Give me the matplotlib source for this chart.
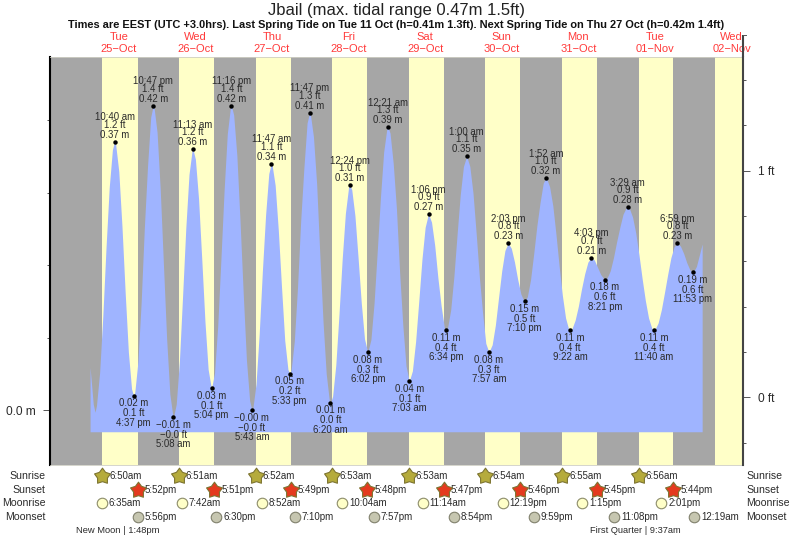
import numpy as np
import matplotlib
matplotlib.use("Agg")
import matplotlib.pyplot as plt
from matplotlib.path import Path

plt.rcParams['font.family'] = ['Liberation Sans', 'DejaVu Sans']

# high and low waters, first one is a high
tide_days = [0, 0, 0, 1, 1, 1, 1, 2, 2, 2, 2, 3, 3, 3, 4, 4, 4, 4, 5, 5, 5, 5, 6, 6, 6, 6, 7, 7, 7, 7]
tide_times = ["10:40 am", "4:37 pm", "10:47 pm", "5:08 am", "11:13 am", "5:04 pm", "11:16 pm", "5:43 am",
              "11:47 am", "5:33 pm", "11:47 pm", "6:20 am", "12:24 pm", "6:02 pm", "12:21 am", "7:03 am",
              "1:06 pm", "6:34 pm", "1:00 am", "7:57 am", "2:03 pm", "7:10 pm", "1:52 am", "9:22 am",
              "4:03 pm", "8:21 pm", "3:29 am", "11:40 am", "6:59 pm", "11:53 pm"]
tide_m = [0.37, 0.02, 0.42, -0.01, 0.36, 0.03, 0.42, -0.0, 0.34, 0.05, 0.41, 0.01, 0.31, 0.08, 0.39,
          0.04, 0.27, 0.11, 0.35, 0.08, 0.23, 0.15, 0.32, 0.11, 0.21, 0.18, 0.28, 0.11, 0.23, 0.19]
tide_ft = [1.2, 0.1, 1.4, -0.0, 1.2, 0.1, 1.4, -0.0, 1.1, 0.2, 1.3, 0.0, 1.0, 0.3, 1.3,
           0.1, 0.9, 0.4, 1.1, 0.3, 0.8, 0.5, 1.0, 0.4, 0.7, 0.6, 0.9, 0.4, 0.8, 0.6]

# water height, hours 3 to 194 after midnight on the 25th
curve_m = [0.059, 0.008, 0.006, 0.052, 0.13, 0.224, 0.307, 0.359, 0.367, 0.329,
           0.253, 0.162, 0.08, 0.029, 0.024, 0.067, 0.148, 0.251, 0.336, 0.404,
           0.419, 0.383, 0.303, 0.2, 0.098, 0.022, -0.01, 0.008, 0.068, 0.158,
           0.251, 0.325, 0.359, 0.346, 0.291, 0.208, 0.122, 0.056, 0.03, 0.051,
           0.116, 0.208, 0.303, 0.381, 0.418, 0.407, 0.351, 0.26, 0.16, 0.069,
           0.013, 0.002, 0.036, 0.105, 0.192, 0.269, 0.326, 0.339, 0.31, 0.247,
           0.169, 0.096, 0.056, 0.055, 0.095, 0.169, 0.261, 0.334, 0.396, 0.409,
           0.377, 0.312, 0.214, 0.122, 0.05, 0.012, 0.019, 0.062, 0.132, 0.208,
           0.271, 0.307, 0.304, 0.268, 0.209, 0.147, 0.098, 0.08, 0.097, 0.148,
           0.22, 0.294, 0.356, 0.388, 0.382, 0.34, 0.278, 0.19, 0.117, 0.061,
           0.04, 0.054, 0.094, 0.15, 0.208, 0.252, 0.27, 0.259, 0.227, 0.182,
           0.144, 0.114, 0.113, 0.138, 0.184, 0.242, 0.297, 0.336, 0.35, 0.336,
           0.299, 0.243, 0.183, 0.134, 0.092, 0.08, 0.09, 0.117, 0.155, 0.192,
           0.22, 0.23, 0.223, 0.204, 0.18, 0.16, 0.15, 0.156, 0.179, 0.215,
           0.254, 0.286, 0.313, 0.32, 0.308, 0.282, 0.242, 0.198, 0.158, 0.127,
           0.111, 0.112, 0.124, 0.143, 0.167, 0.188, 0.204, 0.21, 0.207, 0.197,
           0.187, 0.181, 0.182, 0.192, 0.21, 0.232, 0.252, 0.27, 0.279, 0.278,
           0.266, 0.244, 0.214, 0.181, 0.151, 0.127, 0.113, 0.111, 0.12, 0.138,
           0.162, 0.187, 0.21, 0.225, 0.23, 0.226, 0.216, 0.203, 0.193, 0.19,
           0.198, 0.215]
curve_extra_hours = [4.55, 194.8]
curve_extra_m = [-0.003, 0.229]

day_names = ["Tue", "Wed", "Thu", "Fri", "Sat", "Sun", "Mon", "Tue", "Wed"]
day_dates = ["25-Oct", "26-Oct", "27-Oct", "28-Oct", "29-Oct", "30-Oct", "31-Oct", "01-Nov", "02-Nov"]
sunrise = ["6:50am", "6:51am", "6:52am", "6:53am", "6:53am", "6:54am", "6:55am", "6:56am"]
sunset = ["5:52pm", "5:51pm", "5:49pm", "5:48pm", "5:47pm", "5:46pm", "5:45pm", "5:44pm"]
last_sunrise = "6:57am"
moonrise = ["6:35am", "7:42am", "8:52am", "10:04am", "11:14am", "12:19pm", "1:15pm", "2:01pm"]
moonset = ["5:56pm", "6:30pm", "7:10pm", "7:57pm", "8:54pm", "9:59pm", "11:08pm", "12:19am"]
moonset_days = [0, 1, 2, 3, 4, 5, 6, 8]

GREY = "#a6a6a6"
YELLOW = "#ffffc8"
BLUE = "#9fb4ff"
RED = "#ff3a3a"
TEXT = "#2a2a2a"
W, H = 793, 539


def to_hours(day, text):
    # "10:47 pm" or "10:47pm" -> hours after midnight on the 25th
    text = text.replace(" ", "")
    hh, mm = text[:-2].split(":")
    hh = int(hh) % 12
    if text.endswith("pm"):
        hh += 12
    return day * 24 + hh + int(mm) / 60


def minus(text):
    return text.replace("-", "\u2212")


def row_y(py):
    return (465 - py) / 408


fig = plt.figure(figsize=(W / 100, H / 100), dpi=100)
ax = fig.add_axes([50 / W, (H - 465) / H, 693 / W, 408 / H])
ax.set_facecolor(GREY)
ax.set_xlim(-9.558, 207.6)
ax.set_ylim(-0.07586, 0.4869)

# daylight
for i in range(8):
    ax.axvspan(to_hours(i, sunrise[i]), to_hours(i, sunset[i]), color=YELLOW, lw=0, zorder=1)
ax.axvspan(to_hours(8, last_sunrise), 207.6, color=YELLOW, lw=0, zorder=1)

# water
tide_hours = [to_hours(d, t) for d, t in zip(tide_days, tide_times)]
all_hours = np.concatenate([np.arange(3, 195), curve_extra_hours, tide_hours])
all_m = np.concatenate([curve_m, curve_extra_m, tide_m])
order = np.argsort(all_hours)
ax.fill_between(all_hours[order], -0.03, all_m[order], color=BLUE, lw=0, zorder=2)

ax.plot(tide_hours, tide_m, "o", color="black", ms=3.2, mew=0, zorder=4)
for i, (hr, m, ft, t) in enumerate(zip(tide_hours, tide_m, tide_ft, tide_times)):
    if i % 2 == 0:
        rows = [(7, f"{m:.2f} m"), (17, f"{ft:.1f} ft"), (24.5, t)]
    else:
        rows = [(-7.5, f"{m:.2f} m"), (-17.5, f"{ft:.1f} ft"), (-27, t)]
    for off, s in rows:
        ax.annotate(minus(s), (hr, m), xytext=(0, off), textcoords="offset pixels",
                    ha="center", va="center", fontsize=6.9, color=TEXT, zorder=5,
                    annotation_clip=False)

# left axis, metres
ax.set_xticks([])
ax.set_yticks([0.0])
ax.set_yticklabels(["0.0 m"], fontsize=8.6, color=TEXT)
ax.set_yticks([0.1, 0.2, 0.3, 0.4], minor=True)
ax.tick_params(axis="y", which="major", length=5, width=0.7, color="#555555", pad=5.5)
ax.tick_params(axis="y", which="minor", length=2.4, width=0.7, color="#555555")
ax.spines["left"].set_linewidth(1.5)
ax.spines["left"].set_color("black")
ax.spines["right"].set_visible(False)
for side in ["top", "bottom"]:
    ax.spines[side].set_linewidth(0.6)
    ax.spines[side].set_color("#cfcfc4")

# right axis, feet, its line runs on above the plot
ax2 = ax.twinx()
ax2.set_ylim(-0.2986, 1.501)
ax2.set_yticks([0, 1])
ax2.set_yticklabels(["0 ft", "1 ft"], fontsize=8.6, color=TEXT)
ax2.set_yticks([-0.2, 0.2, 0.4, 0.6, 0.8, 1.2, 1.4], minor=True)
ax2.tick_params(axis="y", which="major", length=5, width=0.7, color="#555555", pad=5.5)
ax2.tick_params(axis="y", which="minor", length=2.4, width=0.7, color="#555555")
for side in ["top", "bottom", "left"]:
    ax2.spines[side].set_visible(False)
ax2.spines["right"].set_linewidth(1.5)
ax2.spines["right"].set_color("#444444")
ax2.plot([1, 1], [1.5, 1.598], transform=ax2.get_yaxis_transform(), clip_on=False,
         color="#444444", lw=1.5, solid_capstyle="butt", zorder=6)
ax2.plot([1, 1 + 3.3 / 693], [1.598, 1.598], transform=ax2.get_yaxis_transform(), clip_on=False,
         color="#555555", lw=0.7, zorder=6)

# titles
fig.text(396 / W, 1 - 10.5 / H, "Jbail (max. tidal range 0.47m 1.5ft)", ha="center", va="center",
         fontsize=12, color="#222222")
fig.text(396.5 / W, 1 - 25.5 / H,
         "Times are EEST (UTC +3.0hrs). Last Spring Tide on Tue 11 Oct (h=0.41m 1.3ft). "
         "Next Spring Tide on Thu 27 Oct (h=0.42m 1.4ft)",
         ha="center", va="center", fontsize=7.9, fontweight="bold", color="#111111")

xt = ax.get_xaxis_transform()
for i, (name, date) in enumerate(zip(day_names, day_dates)):
    hr = 12 + 24 * i
    ax.text(hr, row_y(37.5), name, transform=xt, ha="center", va="center", fontsize=8, color=RED, clip_on=False)
    ax.text(hr, row_y(49), minus(date), transform=xt, ha="center", va="center", fontsize=8, color=RED, clip_on=False)

# rows under the plot
star = Path.unit_regular_star(5, innerCircle=0.62)
hr_off = 7 / 3.191


def event_row(hours, labels, py, marker, size, face, edge):
    ax.plot(hours, [row_y(py)] * len(hours), linestyle="none", marker=marker, ms=size, mfc=face, mec=edge,
            mew=0.8, transform=xt, clip_on=False, zorder=6)
    for hr, s in zip(hours, labels):
        ax.text(hr + hr_off, row_y(py), s, transform=xt, ha="left", va="center", fontsize=7.0,
                color=TEXT, clip_on=False)


event_row([to_hours(i, s) for i, s in enumerate(sunrise)], sunrise, 476, star, 12, "#b5ab3c", "#7d7430")
event_row([to_hours(i, s) for i, s in enumerate(sunset)], sunset, 490, star, 12, "#e43a1e", "#7d7430")
event_row([to_hours(i, s) for i, s in enumerate(moonrise)], moonrise, 503, "o", 7.6, "#ffffc8", "#8c8c6a")
event_row([to_hours(d, s) for d, s in zip(moonset_days, moonset)], moonset, 517, "o", 7.6, "#c6c6b0", "#80806c")

for py, s in [(476, "Sunrise"), (490, "Sunset"), (503, "Moonrise"), (517, "Moonset")]:
    fig.text(45.5 / W, 1 - py / H, s, ha="right", va="center", fontsize=7.6, color=TEXT)
    fig.text(746.5 / W, 1 - py / H, s, ha="left", va="center", fontsize=7.6, color=TEXT)

fig.text(117.5 / W, 1 - 530.5 / H, "New Moon | 1:48pm", ha="center", va="center", fontsize=6.75, color=TEXT)
fig.text(635.5 / W, 1 - 530.5 / H, "First Quarter | 9:37am", ha="center", va="center", fontsize=6.7, color=TEXT)

fig.savefig("out.png", dpi=100)
